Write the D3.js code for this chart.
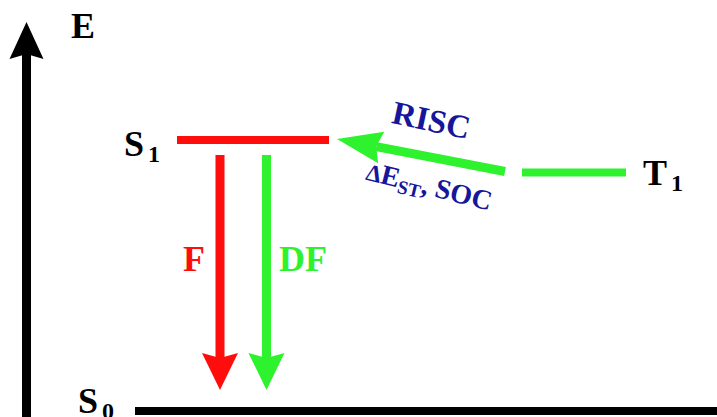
<!DOCTYPE html>
<html>
<head>
<meta charset="utf-8">
<title>TADF energy diagram</title>
<script src="https://d3js.org/d3.v7.min.js"></script>
<style>
  body { margin: 0; background: #fff; }
</style>
</head>
<body>
<div id="chart"></div>
<script>
// energy levels (relative energy, S0 = 0)
const levelNames = ["S0", "S1", "T1"];
const levelEnergy = [0, 1, 0.88];
const levelMain = ["S", "S", "T"];
const levelSub = ["0", "1", "1"];

// transitions
const transNames = ["F", "DF", "RISC"];
const transFrom = ["S1", "S1", "T1"];
const transTo = ["S0", "S0", "S1"];

// text around the RISC arrow
const riscNote = ["\u0394", "E", "ST", ", SOC"];

const width = 717, height = 417;
const red = "#ff0d0d", green = "#2ef22e", navy = "#16169a";
const levelColor = { S0: "#000", S1: red, T1: green };
const transColor = { F: red, DF: green, RISC: green };

const svg = d3.select("#chart").append("svg")
    .attr("width", width)
    .attr("height", height)
    .style("display", "block");

// energy -> vertical pixel
const y = d3.scaleLinear().domain([0, 1]).range([411, 140]);

// horizontal extent of each level line
const span = { S0: [135, 717], S1: [177, 329], T1: [522, 626] };

const levels = levelNames.map((n, i) => ({ name: n, e: levelEnergy[i], main: levelMain[i], sub: levelSub[i] }));
const byName = {};
levels.forEach(d => byName[d.name] = d);

function label(x, yy, size, color) {
    return svg.append("text")
        .attr("x", x).attr("y", yy)
        .attr("font-size", size)
        .attr("font-weight", "bold")
        .attr("fill", color || "#000")
        .style("font-family", "Liberation Serif");
}

// draw a thick arrow with a notched head
function arrow(g, x1, y1, x2, y2, color, w, L, h, notch) {
    const dx = x2 - x1, dy = y2 - y1;
    const len = Math.sqrt(dx * dx + dy * dy);
    const ux = dx / len, uy = dy / len;
    const px = -uy, py = ux;
    const bx = x2 - ux * L, by = y2 - uy * L;
    const nx = x2 - ux * (L - notch), ny = y2 - uy * (L - notch);
    g.append("line")
        .attr("x1", x1).attr("y1", y1)
        .attr("x2", nx).attr("y2", ny)
        .attr("stroke", color)
        .attr("stroke-width", w);
    g.append("path")
        .attr("d", d3.line()([[x2, y2], [bx + px * h, by + py * h], [nx, ny], [bx - px * h, by - py * h]]) + "Z")
        .attr("fill", color);
}

// energy axis
arrow(svg, 26.5, height + 5, 26.5, 22, "#000", 9, 37, 17, 5);
label(71, 38, 36).text("E");

// level lines
svg.selectAll(".level")
    .data(levels)
    .join("line")
    .attr("class", "level")
    .attr("x1", d => span[d.name][0])
    .attr("x2", d => span[d.name][1])
    .attr("y1", d => y(d.e))
    .attr("y2", d => y(d.e))
    .attr("stroke", d => levelColor[d.name])
    .attr("stroke-width", 8);

// level labels
const labelPos = { S0: [78, 413], S1: [124, 156], T1: [643, 185] };
levels.forEach(d => {
    const t = label(labelPos[d.name][0], labelPos[d.name][1], 36);
    t.append("tspan").text(d.main);
    t.append("tspan").attr("font-size", 24).attr("dx", 4).attr("dy", 6).text(d.sub);
});

// transitions
const trans = transNames.map((n, i) => ({ name: n, from: byName[transFrom[i]], to: byName[transTo[i]] }));

const vertX = { F: 220, DF: 266.5 };
trans.filter(d => d.name !== "RISC").forEach(d => {
    arrow(svg, vertX[d.name], y(d.from.e) + 15, vertX[d.name], y(d.to.e) - 21,
        transColor[d.name], 9, 37, 18, 5);
});

// transition labels
label(183, 271, 36, red).text("F");
label(279, 271, 36, green).text("DF");

// RISC arrow from T1 up to S1
const risc = trans.find(d => d.name === "RISC");
arrow(svg, 505, y(risc.from.e) - 1, 337, y(risc.to.e) - 1, transColor.RISC, 9, 45, 16, 5);

label(0, 0, 33, navy)
    .attr("transform", "translate(429,131) rotate(12)")
    .attr("text-anchor", "middle")
    .text("RISC");

const note = label(0, 0, 28, navy)
    .attr("transform", "translate(427,195) rotate(14)")
    .attr("text-anchor", "middle");
note.append("tspan").attr("font-size", 24).text(riscNote[0]);
note.append("tspan").text(riscNote[1]);
note.append("tspan").attr("font-size", 19).attr("dy", 5).text(riscNote[2]);
note.append("tspan").attr("dy", -5).text(riscNote[3]);
</script>
</body>
</html>
